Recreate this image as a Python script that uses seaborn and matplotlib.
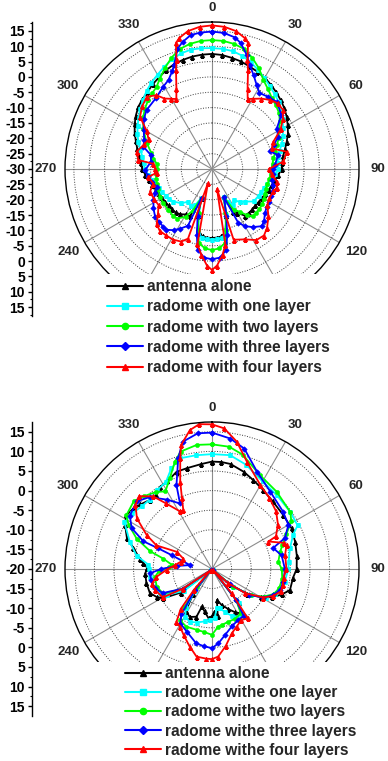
import numpy as np
import matplotlib
matplotlib.use("Agg")
import matplotlib.pyplot as plt
import seaborn as sns
from matplotlib.patches import Rectangle
from matplotlib.lines import Line2D

sns.set_theme(style="white")
plt.rcParams["font.family"] = ["Liberation Sans", "DejaVu Sans"]
plt.rcParams["font.weight"] = "bold"

# ---------------- data: (angle in degrees, gain in dB) ----------------
TOP_ALONE = [(0,7.5),(5,7.3),(10,6.8),(15,6.3),(20,5.6),(25,5.0),(30,4.3),(35,3.5),(40,2.6),(45,1.7),(50,0.8),(55,-0.3),(60,-1.5),(65,-2.7),(70,-4.1),(75,-5.4),(80,-6.5),(85,-7.0),(90,-7.3),(95,-8.3),(100,-9.2),(105,-9.8),(110,-10.3),(115,-10.8),(120,-11.2),(125,-11.4),(130,-11.5),(135,-11.4),(140,-11.3),(145,-11.5),(150,-13.5),(154,-14.5),(157,-20),(163,-14),(168,-9),(172,-7.8),(176,-7.6),(180,-7.5),(184,-7.6),(188,-7.8),(192,-9),(197,-14),(200,-20),(205,-13),(210,-12.9),(215,-12),(220,-11.5),(225,-11.5),(230,-11.5),(235,-11.3),(240,-11),(245,-10.8),(250,-10.5),(255,-9.8),(260,-9),(265,-8.2),(270,-7.3),(275,-6.7),(280,-6),(285,-4.8),(290,-3.6),(295,-2.2),(300,-0.9),(305,0.3),(310,1.4),(315,2.1),(320,2.7),(325,3.7),(330,4.5),(335,5.5),(340,6.3),(345,6.8),(350,7.2),(355,7.4),(360,7.5)]
TOP_ONE = [(0,9.4),(5,9.3),(10,9.0),(15,8.2),(20,7.0),(25,5.6),(30,4.2),(35,2.9),(40,1.8),(45,0.8),(50,-0.5),(55,-1.8),(60,-3.3),(65,-4.5),(70,-5.8),(75,-7.2),(80,-8.2),(85,-8.5),(90,-8.5),(95,-9.5),(100,-10.5),(105,-11.3),(110,-12),(115,-12.3),(120,-12.5),(128,-12.8),(135,-15),(140,-16),(145,-17.7),(150,-16.5),(154,-18),(157,-20),(163,-14.4),(168,-8.7),(172,-7.3),(176,-7),(180,-6.9),(184,-7),(188,-7.3),(192,-8.7),(196,-14.4),(200,-20),(205,-17),(210,-16),(216,-16.8),(222,-15),(230,-13.5),(235,-13),(240,-12.7),(245,-12),(250,-11.5),(255,-10.8),(260,-10),(265,-9),(270,-8.2),(275,-7.6),(280,-7),(285,-5.8),(290,-4.5),(295,-3.2),(300,-2),(305,-0.8),(310,0.5),(315,1.8),(320,3.2),(325,4.4),(330,5.5),(335,6.8),(340,8),(345,9),(350,9.5),(355,9.5),(360,9.4)]
TOP_TWO = [(0,12),(5,11.9),(10,11.4),(15,10.5),(20,8.5),(25,6.2),(30,3.5),(35,1.8),(40,0.3),(45,-0.6),(50,-1.5),(55,-3),(60,-4.8),(65,-6),(70,-7.5),(75,-8.6),(80,-9.7),(85,-10.2),(90,-10.6),(95,-10.8),(100,-11),(105,-11.3),(110,-11.3),(115,-11),(120,-10.5),(125,-10),(130,-9.8),(135,-9.6),(139,-9.5),(143,-11.2),(147,-13.4),(152,-15),(157,-20),(163,-15),(167,-9.6),(170,-5.5),(175,-4),(180,-3.6),(185,-4),(190,-5.5),(193,-9.6),(197,-15),(200,-20),(205,-15),(209,-12.2),(215,-10.3),(220,-10.2),(227,-10.5),(235,-10.6),(242,-10.8),(250,-11.2),(255,-11.4),(260,-11.5),(265,-11.8),(270,-12.2),(275,-12),(280,-10.6),(285,-9.5),(292,-7),(300,-4.2),(307,-1.9),(312,-0.6),(317,0.6),(322,1.5),(326,2.3),(330,4.0),(335,6.3),(340,8.6),(345,10.5),(350,11.4),(355,11.9),(360,12)]
TOP_THREE = [(0,14.8),(5,14.5),(10,13.5),(13,12),(17,8.8),(20,6),(24,3.4),(28,1),(32,-0.8),(38,-0.2),(44,0.4),(52,-1.3),(58,-5.1),(64,-6),(69,-8.5),(73,-10.3),(78,-8),(86,-9.4),(90,-10),(95,-10.2),(100,-10),(105,-9.5),(110,-9),(115,-8.8),(120,-8.6),(125,-8.3),(130,-7.5),(135,-6),(139,-5.3),(145,-6.9),(150,-8.5),(154,-10.5),(157,-20),(163,-14),(167,-8),(170,-3.2),(175,-1),(180,-0.6),(185,-1),(190,-3.2),(193,-8),(197,-14),(200,-20),(203,-9.9),(208,-8),(212,-6.5),(217,-5.2),(220,-5.4),(225,-5.6),(230,-5.8),(236,-7),(242,-8.4),(247,-9.8),(252,-11.1),(258,-10),(264,-9),(269,-8.2),(277,-10),(283,-9.5),(288,-6.5),(293,-6),(300,-4.3),(306,-2.5),(312,-1.3),(322,-0.5),(329,1.1),(334,2.3),(338,4.5),(340,6.1),(344,10.8),(347,12.5),(351,14.2),(355,14.6),(360,14.8)]
TOP_FOUR = [(0,16.8),(5,16.5),(10,15.6),(14,14),(16,12.7),(18,7.4),(20,4.3),(24,-1.5),(27,-4.4),(30,-3.6),(35,-2),(40,-0.6),(45,0.3),(50,0.1),(55,-1.8),(60,-4.2),(66,-8.1),(71,-9.4),(77,-5),(84,-6.6),(90,-11.5),(95,-10.5),(101,-8.5),(106,-8),(110,-8.7),(117,-9),(123,-8.5),(130,-6),(137,-3.7),(142,-2.5),(148,-2.7),(155,-4.7),(163,-5.9),(166,-23.3),(170,-5),(173,-1.8),(177,1.5),(180,2.9),(183,1.5),(187,-1.8),(191,-5),(196,-25.2),(199,-6),(203,-4.3),(209,-3.7),(215,-3.7),(220,-3.6),(225,-4.5),(230,-7),(236,-9),(243,-8.7),(250,-8.5),(256,-10.3),(263,-9.1),(266,-11.9),(270,-11.5),(275,-10.8),(277,-5.8),(283,-4.8),(290,-6.5),(295,-7.2),(300,-5.5),(306,-1),(312,0.6),(318,1.7),(323,0.1),(326,-2.3),(330,-3.6),(333,-4.4),(336,-1.5),(340,4.3),(342,7.4),(344,12.7),(346,14),(350,15.6),(355,16.5),(360,16.8)]

BOT_ALONE = [(0,7.4),(5,7.4),(10,7.2),(18,6.1),(25,5.0),(33,4.0),(42,3.2),(53,2.8),(63,2.8),(72,2.3),(81,1.9),(90,1.6),(96,0.8),(105,0.6),(110,-1.0),(115,-3),(120,-5.5),(125,-9),(131,-14),(137,-19.5),(142,-9),(147,-6.5),(152,-7.5),(158,-9),(165,-10.5),(171,-12),(173,-8),(177,-9),(180,-8),(184,-7.4),(190,-9),(195,-10.1),(198,-7.2),(205,-6.5),(212,-7.5),(217,-12),(224,-19.5),(233,-10),(239,-5.5),(243,-4.2),(249,-3),(258,-2.9),(266,-2.9),(271,-3.5),(275,-2.4),(278,-1.4),(285,0.75),(290,3.1),(297,4.9),(302,5.8),(308,5.3),(312,4.6),(318,3.7),(323,3.6),(328,4.8),(333,5.1),(340,6.4),(346,6.5),(354,6.9),(360,7.4)]
BOT_ONE = [(0,9.3),(9,9.4),(18,8.0),(30,5.8),(41,5.1),(54,4.7),(63,4.5),(67,2.5),(75,0.6),(85,-0.4),(90,-0.5),(100,-1.2),(107,-1.8),(112,-2.8),(118,-4.5),(124,-8),(130,-13),(137,-19.5),(142,-9),(146,-5.5),(150,-6),(157,-7),(163,-8.5),(169,-9.8),(173,-9.9),(177,-7.5),(182,-6.9),(188,-6.5),(196,-5.8),(203,-5.4),(209,-6),(214,-8),(218,-13),(224,-19.5),(232,-11),(240,-6.7),(245,-5.4),(253,-4.4),(263,-4.1),(270,-4),(274,-3.7),(280,-0.45),(288,2),(298,5.3),(305,4.8),(312,4.0),(318,3.8),(325,4.5),(332,5.1),(338,7.7),(344,9.4),(352,9.3),(360,9.3)]
BOT_TWO = [(0,11.8),(8,11.5),(15,10.2),(27,6.9),(40,5.7),(54,4.7),(59,3.6),(65,0.9),(71,-1),(76,-2.1),(84,-3),(90,-2.2),(98,-1.9),(106,-2.2),(112,-3),(118,-5),(124,-8),(130,-13),(137,-19.5),(142,-10),(147,-6.5),(155,-6),(163,-5.9),(170,-5.5),(174,-5.2),(180,-3.2),(187,-3.8),(194,-4),(204,-3.9),(212,-4.6),(216,-8),(220,-14),(226,-19.5),(236,-11),(243,-6.1),(252,-5.2),(262,-5.3),(268,-6.5),(272,-9),(276,-9.7),(282,-7.3),(286,-3.6),(292,0.75),(298,4.1),(302,5.8),(311,6.4),(317,5.4),(324,4.3),(329,3.1),(335,5.5),(341,9),(345,11),(353,11.9),(360,11.8)]
BOT_THREE = [(0,14.8),(8,13.6),(15,11.8),(25,7.3),(37,4.7),(51,3.3),(60,2.5),(67,0.2),(71,-3.5),(79,-1.9),(90,-1.4),(100,-1.5),(107,-1.8),(113,-3),(119,-5),(125,-8.5),(131,-14),(137,-19.5),(142,-10),(146,-5.5),(153,-5.4),(161,-4.5),(169,-2.8),(175,-1),(180,0.2),(186,-0.2),(192,-0.6),(202,-2.8),(210,-3.9),(214,-6),(219,-13),(226,-19.5),(236,-11),(244,-6),(252,-4.6),(260,-4.2),(266,-4.1),(270,-7),(275,-11),(280,-14.3),(289,-9.1),(291,-5.3),(292,-1.1),(297,3.0),(303,5.0),(312,5.8),(319,4.3),(327,1.1),(334,-1.4),(337,3.2),(343,9.5),(347,13.3),(354,14.8),(360,14.8)]
BOT_FOUR = [(0,16.9),(5,16.0),(11,13.1),(18,8.8),(30,4.7),(39,3.3),(48,2.0),(56,0.3),(63,-1.7),(64,-4.0),(70,-0.5),(72,0),(79,-1),(90,-1),(97,-1.6),(103,-1.5),(108,-1.5),(114,-3),(119,-5),(126,-9.5),(131,-14.5),(137,-19.5),(141,-12),(144,-4.4),(150,-5),(157,-4),(163,-2.8),(170,0),(176,2.4),(180,3.0),(184,2.9),(190,2.7),(196,0.6),(203,-1.6),(209,-3.2),(214,-3.8),(218,-7),(221,-13),(227,-19.5),(236,-11),(240,-5.5),(250,-4.5),(256,-4.2),(262,-5.7),(269,-8.4),(276,-10.5),(283,-11.8),(290,-12.2),(296,-10),(293,-4.6),(297.5,-1.2),(304,3.1),(310,5.5),(315,6.3),(321,3.8),(325,0.4),(331,-3.2),(334,-3.3),(337,-0.4),(340,3.7),(344,9.4),(346,12.6),(351,15.9),(355,17.1),(360,16.9)]

LEGEND_TOP = ["antenna alone", "radome with one layer", "radome with two layers",
              "radome with three layers", "radome with four layers"]
LEGEND_BOT = ["antenna alone", "radome withe one layer", "radome withe two layers",
              "radome withe three layers", "radome withe four layers"]
THETA_TICKS = [0, 30, 60, 90, 120, 150, 180, 210, 240, 270, 300, 330]
THETA_SHOWN = [0, 30, 60, 90, 120, 240, 270, 300, 330]   # the others are hidden by the legend
TOP_RTICKS = [-30, -25, -20, -15, -10, -5, 0, 5, 10, 15]
BOT_RTICKS = [-20, -15, -10, -5, 0, 5, 10, 15]

COLORS = ["#000000", "#00FFFF", "#00FF00", "#0000FF", "#FF0000"]
MARKERS = ["^", "s", "o", "D", "^"]
MSIZES = [3.4, 2.8, 3.0, 2.8, 3.4]

W, H = 388, 761
fig = plt.figure(figsize=(W / 100, H / 100), dpi=100)
fig.patch.set_facecolor("white")
CX, RPX = 212, 147


def panel(cy, rmin, rmax, series, rticks):
    ax = fig.add_axes([(CX - RPX) / W, 1 - (cy + RPX) / H, 2 * RPX / W, 2 * RPX / H],
                      projection="polar")
    ax.set_theta_zero_location("N")
    ax.set_theta_direction(-1)
    for pts, c, m, ms in zip(series, COLORS, MARKERS, MSIZES):
        ang = np.deg2rad([p[0] for p in pts])
        db = np.array([p[1] for p in pts])
        sns.lineplot(x=ang, y=db, ax=ax, sort=False, estimator=None, color=c,
                     marker=m, markersize=ms, markeredgecolor=c, markeredgewidth=0.4,
                     linewidth=1.3, legend=False)
    ax.set_ylim(rmin, rmax)
    ax.set_yticks(rticks[1:])
    ax.set_yticklabels([])
    ax.set_xticks(np.deg2rad(THETA_TICKS))
    ax.set_xticklabels([])
    ax.xaxis.grid(True, color="#8c8c8c", linewidth=0.8, linestyle="-")
    ax.yaxis.grid(True, color="#3a3a3a", linewidth=0.7, linestyle=(0, (1, 1.6)))
    ax.set_axisbelow(True)
    ax.spines["polar"].set_color("black")
    ax.spines["polar"].set_linewidth(1.0)
    ax.set_facecolor("white")
    ax.set_xlabel("")
    ax.set_ylabel("")
    for t in THETA_SHOWN:
        rp = 161 if t == 0 else 166
        rlab = rmin + rp / RPX * (rmax - rmin)
        ax.text(np.deg2rad(t), rlab, str(t), ha="center", va="center", fontsize=9.5,
                fontweight="bold", clip_on=False)
    # mirrored vertical scale on the left
    R = rmax - rmin
    axl = fig.add_axes([32 / W, 1 - (cy + RPX) / H, 0.5 / W, 2 * RPX / H])
    axl.set_ylim(-R, R)
    pos, lab = [], []
    for v in rticks:
        pos.append(v - rmin)
        lab.append(str(v))
        if v != rmin:
            pos.append(-(v - rmin))
            lab.append(str(v))
    axl.set_yticks(pos)
    axl.set_yticklabels(lab)
    minor = []
    for v in rticks:
        p = v - rmin + 2.5
        if p < R:
            minor += [p, -p]
    axl.set_yticks(minor, minor=True)
    axl.set_xticks([])
    for s in ["top", "right", "bottom"]:
        axl.spines[s].set_visible(False)
    axl.spines["left"].set_color("black")
    axl.spines["left"].set_linewidth(1.0)
    axl.patch.set_visible(False)
    axl.tick_params(axis="y", which="major", direction="out", length=3, width=1,
                    labelsize=10, pad=2, left=True, colors="black")
    axl.tick_params(axis="y", which="minor", direction="out", length=1.8, width=0.8,
                    left=True, colors="black")
    return ax


panel(169, -30, 17.9, [TOP_ALONE, TOP_ONE, TOP_TWO, TOP_THREE, TOP_FOUR], TOP_RTICKS)
panel(569, -20, 17.5, [BOT_ALONE, BOT_ONE, BOT_TWO, BOT_THREE, BOT_FOUR], BOT_RTICKS)

# white areas where the legends sit over the lower part of the polar plots
fig.add_artist(Rectangle((95 / W, 1 - 386 / H), (350 - 95) / W, (386 - 274) / H,
                         transform=fig.transFigure, facecolor="white",
                         edgecolor="none", zorder=5))
fig.add_artist(Rectangle((95 / W, 0), (358 - 95) / W, (761 - 662) / H,
                         transform=fig.transFigure, facecolor="white",
                         edgecolor="none", zorder=5))

handles = [Line2D([0], [0], color=c, marker=m, markersize=4.5, markeredgecolor=c, lw=1.5)
           for c, m in zip(COLORS, MARKERS)]
leg1 = fig.legend(handles, LEGEND_TOP, loc="upper left", bbox_to_anchor=(107 / W, 1 - 279 / H),
                  frameon=False, borderpad=0, borderaxespad=0, handlelength=2.3,
                  handletextpad=0.25, labelspacing=0.34, prop=dict(weight="bold", size=11.2))
leg1.set_zorder(10)
leg2 = fig.legend(handles, LEGEND_BOT, loc="upper left", bbox_to_anchor=(125 / W, 1 - 666 / H),
                  frameon=False, borderpad=0, borderaxespad=0, handlelength=2.3,
                  handletextpad=0.25, labelspacing=0.27, prop=dict(weight="bold", size=11.2))
leg2.set_zorder(10)

fig.savefig("out.png", dpi=100, facecolor="white")
